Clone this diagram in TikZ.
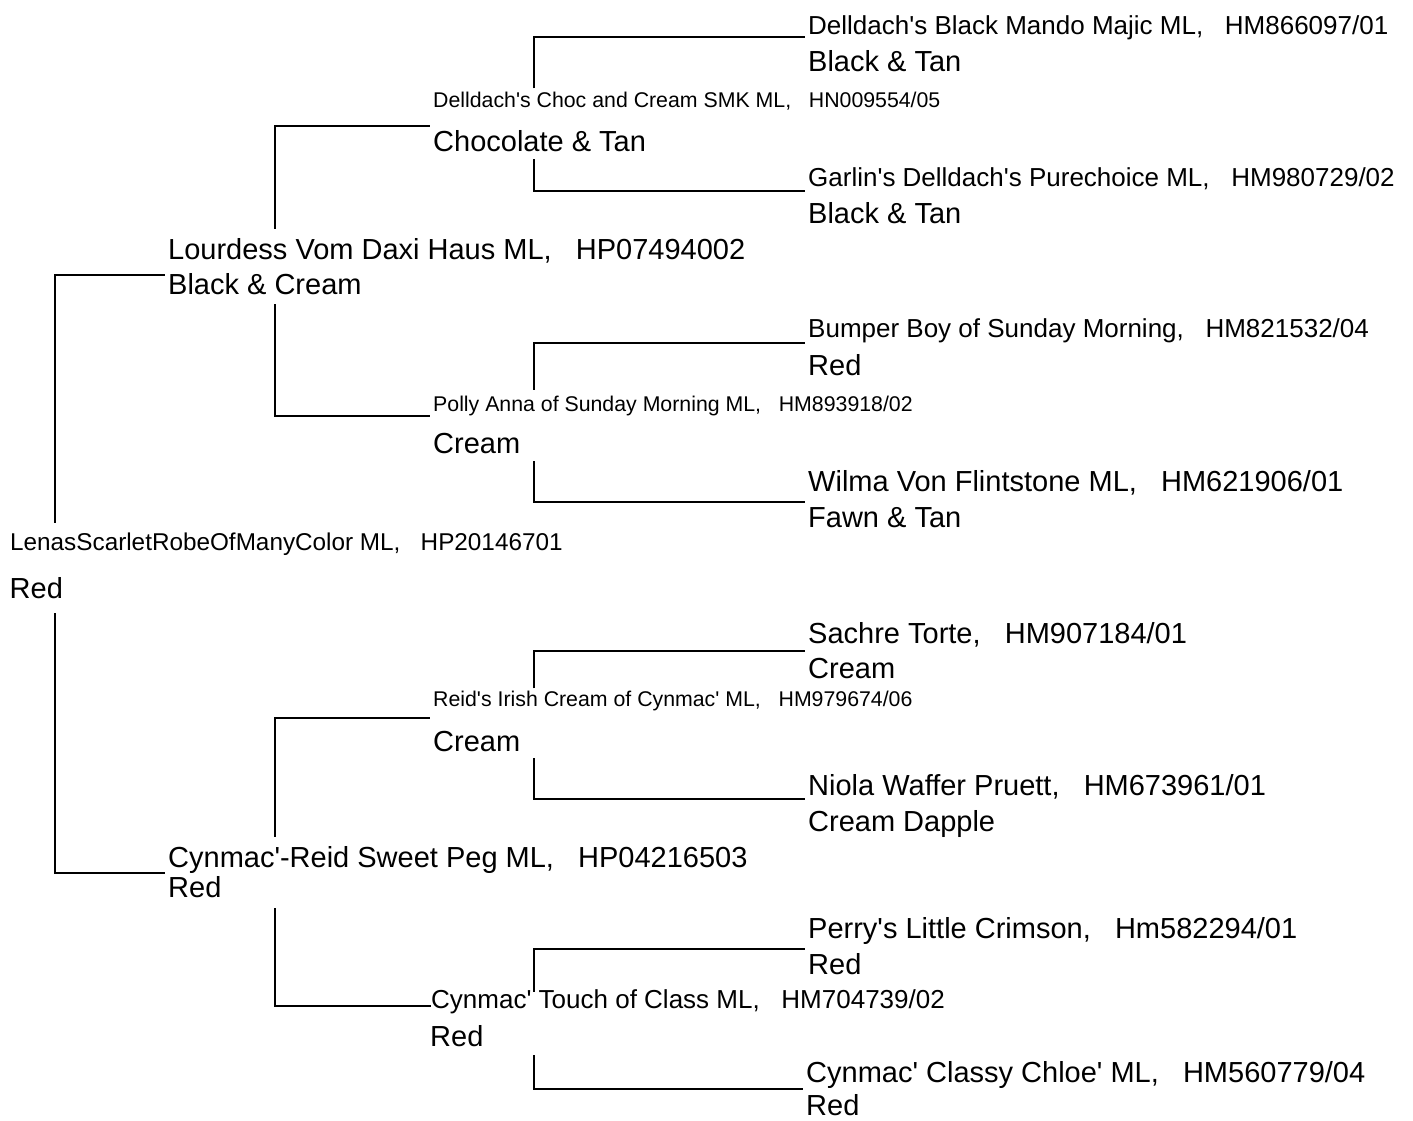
\documentclass[tikz,border=0pt]{standalone}
\usepackage{fontspec}
\newfontfamily\pedfont{Liberation Sans}
\begin{document}
\begin{tikzpicture}[x=1pt,y=-1pt,
  link/.style={line width=2pt},
  dogtxt/.style={anchor=base west,inner sep=0pt},
  bigtxt/.style={dogtxt,font=\pedfont\fontsize{29}{32}\selectfont},
  midtxt/.style={dogtxt,font=\pedfont\fontsize{26}{30}\selectfont},
  regtxt/.style={dogtxt,font=\pedfont\fontsize{24.3}{28}\selectfont},
  smalltxt/.style={dogtxt,font=\pedfont\fontsize{21.3}{24}\selectfont}]
\useasboundingbox (0,0) rectangle (1413,1120);

\node[regtxt] (lenas) at (10,550) {LenasScarletRobeOfManyColor ML,~~~HP20146701};
\node[bigtxt] (lenasc) at (9.5,598.6) {Red};

\node[bigtxt] (lourdess) at (168,259) {Lourdess Vom Daxi Haus ML,~~~HP07494002};
\node[bigtxt] (lourdessc) at (168,294.6) {Black \& Cream};
\node[bigtxt] (sweetpeg) at (168,867) {Cynmac'-Reid Sweet Peg ML,~~~HP04216503};
\node[bigtxt] (sweetpegc) at (168,897.5) {Red};

\node[smalltxt] (choc) at (433,107) {Delldach's Choc and Cream SMK ML,~~~HN009554/05};
\node[bigtxt] (chocc) at (433,151.8) {Chocolate \& Tan};
\node[smalltxt] (polly) at (433,411) {Polly Anna of Sunday Morning ML,~~~HM893918/02};
\node[bigtxt] (pollyc) at (433,453.6) {Cream};
\node[smalltxt] (reid) at (433,706.4) {Reid's Irish Cream of Cynmac' ML,~~~HM979674/06};
\node[bigtxt] (reidc) at (433,751) {Cream};
\node[midtxt] (touch) at (431,1008) {Cynmac' Touch of Class ML,~~~HM704739/02};
\node[bigtxt] (touchc) at (430,1046) {Red};

\node[midtxt] (mando) at (808,34) {Delldach's Black Mando Majic ML,~~~HM866097/01};
\node[bigtxt] (mandoc) at (808,71.4) {Black \& Tan};
\node[midtxt] (garlin) at (808,186) {Garlin's Delldach's Purechoice ML,~~~HM980729/02};
\node[bigtxt] (garlinc) at (808,223) {Black \& Tan};
\node[midtxt] (bumper) at (808,337.5) {Bumper Boy of Sunday Morning,~~~HM821532/04};
\node[bigtxt] (bumperc) at (808,375) {Red};
\node[bigtxt] (wilma) at (808,491) {Wilma Von Flintstone ML,~~~HM621906/01};
\node[bigtxt] (wilmac) at (808,527) {Fawn \& Tan};
\node[bigtxt] (sachre) at (808,643) {Sachre Torte,~~~HM907184/01};
\node[bigtxt] (sachrec) at (808,678) {Cream};
\node[bigtxt] (niola) at (808,795.7) {Niola Waffer Pruett,~~~HM673961/01};
\node[bigtxt] (niolac) at (808,831) {Cream Dapple};
\node[bigtxt] (perry) at (808,938.6) {Perry's Little Crimson,~~~Hm582294/01};
\node[bigtxt] (perryc) at (808,974) {Red};
\node[bigtxt] (chloe) at (806,1082) {Cynmac' Classy Chloe' ML,~~~HM560779/04};
\node[bigtxt] (chloec) at (806,1115) {Red};

\coordinate (col0) at (55,0);
\coordinate (col1) at (274.5,0);
\coordinate (col2) at (534,0);

\coordinate (lourdess-in) at (165,275);
\coordinate (sweetpeg-in) at (165,872.5);
\coordinate (choc-in) at (429.5,126);
\coordinate (polly-in) at (429.5,416);
\coordinate (reid-in) at (429.5,718);
\coordinate (touch-in) at (431,1006.4);
\coordinate (mando-in) at (805,37);
\coordinate (garlin-in) at (805,191);
\coordinate (bumper-in) at (805,343);
\coordinate (wilma-in) at (805,502);
\coordinate (sachre-in) at (805,651);
\coordinate (niola-in) at (805,798.6);
\coordinate (perry-in) at (805,948.6);
\coordinate (chloe-in) at (803,1089);

\draw[link] (col0 |- lenas.north) ++(0,-9.5) |- (lourdess-in);
\draw[link] (col0 |- lenasc.south) ++(0,14.4) |- (sweetpeg-in);

\draw[link] (col1 |- lourdess.north) ++(0,-9.2) |- (choc-in);
\draw[link] (col1 |- lourdessc.south) ++(0,9) |- (polly-in);
\draw[link] (col1 |- sweetpeg.north) ++(0,-9) |- (reid-in);
\draw[link] (col1 |- sweetpegc.south) ++(0,10.5) |- (touch-in);

\draw[link] (col2 |- choc.north) ++(0,-3) |- (mando-in);
\draw[link] (col2 |- chocc.south) ++(0,7) |- (garlin-in);
\draw[link] (col2 |- polly.north) ++(0,-5.7) |- (bumper-in);
\draw[link] (col2 |- pollyc.south) ++(0,7.4) |- (wilma-in);
\draw[link] (col2 |- reid.north) ++(0,-2.5) |- (sachre-in);
\draw[link] (col2 |- reidc.south) ++(0,7) |- (niola-in);
\draw[link] (col2 |- touch.north) ++(0,3) |- (perry-in);
\draw[link] (col2 |- touchc.south) ++(0,8.6) |- (chloe-in);
\end{tikzpicture}
\end{document}
